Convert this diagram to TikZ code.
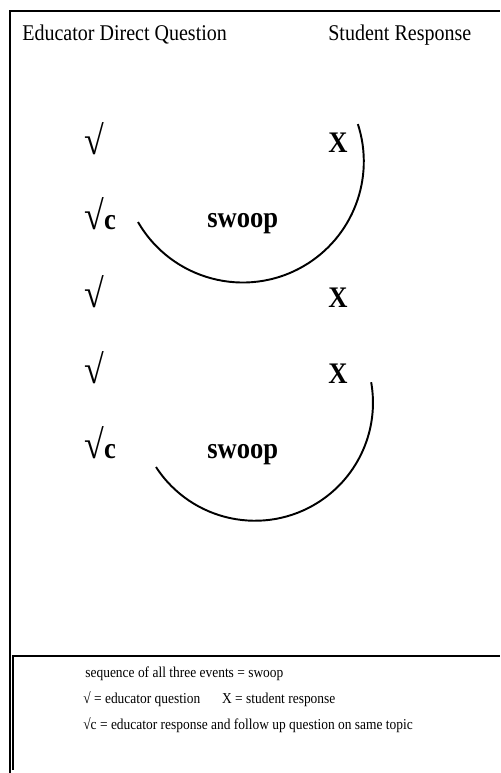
\documentclass[tikz,border=0pt]{standalone}
\usepackage{fontspec}
\setmainfont{Liberation Serif}[FakeStretch=0.89]

\begin{document}
\begin{tikzpicture}[x=0.02cm, y=-0.02cm,
    head/.style={anchor=base west, inner sep=0pt, font=\fontsize{12.8}{15}\selectfont},
    qmark/.style={anchor=base west, inner sep=0pt, font=\fontsize{23}{25}\selectfont},
    resp/.style={anchor=base west, inner sep=0pt, font=\fontsize{17}{20}\selectfont\bfseries},
    legendtext/.style={anchor=base west, inner sep=0pt, font=\fontsize{8.6}{10}\selectfont},
    frame/.style={draw=black, line width=1.1pt},
    swoopline/.style={draw=black, line width=1.1pt}]

    \useasboundingbox (0,0) rectangle (500,773);

    % outer frame and legend box
    \draw [frame] (10,773) -- (10,11) -- (500,11);
    \draw [frame] (13,770) -- (13,656) -- (500,656);

    \node [head] (educator) at (22,41) {Educator Direct Question};
    \node [head] (student) at (328,41) {Student Response};

    % first swoop
    \node [qmark] (q1) at (84,155) {√};
    \node [resp] (x1) at (328,153) {X};
    \node [qmark] (qc1) at (84,230) {√\fontsize{17}{20}\selectfont\bfseries c};
    \node [resp] (swoop1) at (207,228) {swoop};
    \node [qmark] (q2) at (84,307) {√};
    \node [resp] (x2) at (328,307) {X};
    \draw [swoopline] (138,222) arc[start angle=150, end angle=-18, radius=121];

    % second swoop
    \node [qmark] (q3) at (84,383) {√};
    \node [resp] (x3) at (328,383) {X};
    \node [qmark] (qc2) at (84,458) {√\fontsize{17}{20}\selectfont\bfseries c};
    \node [resp] (swoop2) at (207,458) {swoop};
    \draw [swoopline] (156,467) arc[start angle=147, end angle=-10, radius=118];

    % legend
    \node [legendtext] (leg1) at (85,677) {sequence of all three events = swoop};
    \node [legendtext] (leg2) at (83,703) {√ = educator question \quad\ X = student response};
    \node [legendtext] (leg3) at (83,729) {√c = educator response and follow up question on same topic};
\end{tikzpicture}
\end{document}
